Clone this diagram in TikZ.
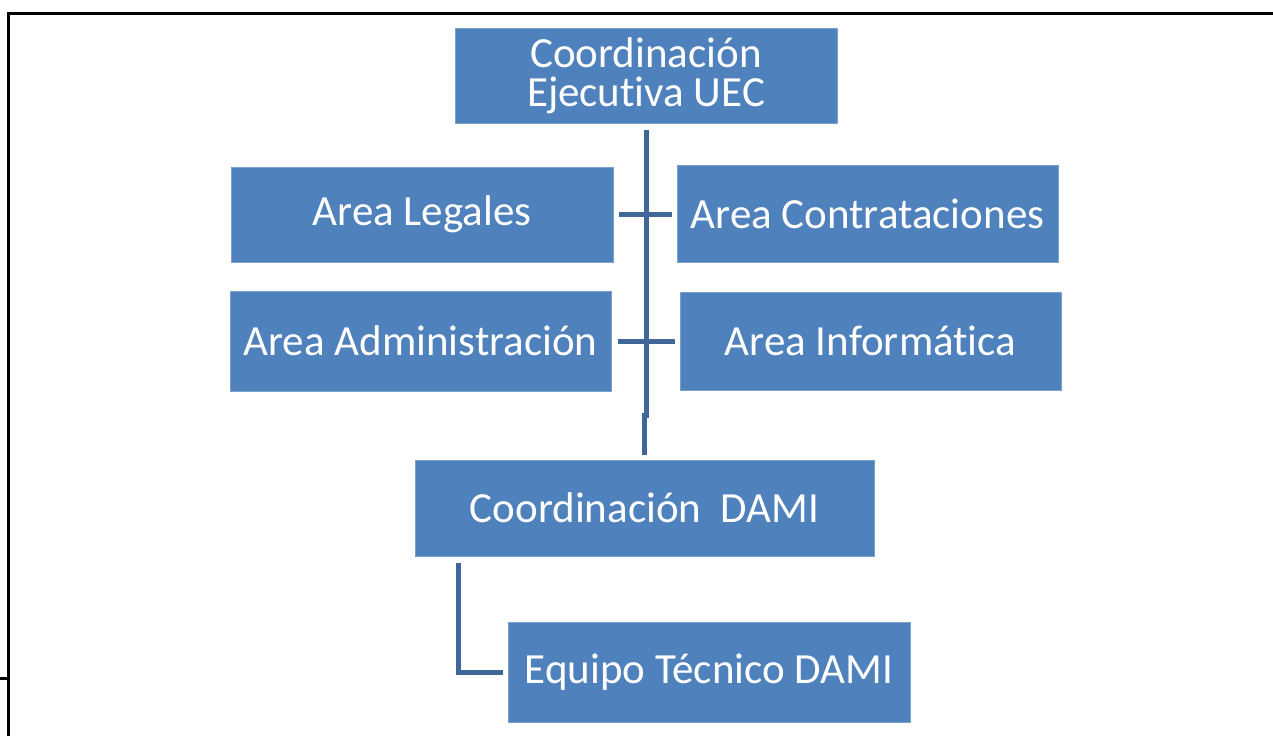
\documentclass[tikz,border=0pt]{standalone}
\usepackage{fontspec}
\setmainfont{Carlito}[Ligatures=NoCommon]
\definecolor{cajaazul}{HTML}{4F81BD}
\definecolor{lineaazul}{HTML}{3F6797}
\begin{document}
\begin{tikzpicture}[x=1pt, y=-1pt,
        caja/.style={fill=cajaazul, draw=cajaazul!75!white, line width=1pt, text=white,
            inner sep=0pt, align=center, font=\fontsize{43}{39}\selectfont},
        linea/.style={draw=lineaazul, line width=5pt}]
    \useasboundingbox (0,0) rectangle (1273,736);
    % marco de la pagina
    \draw [line width=3pt] (0,678) -- (8,678);
    \draw [line width=3pt] (8,736) -- (8,13) -- (1273,13);
    % cajas
    \node [caja, minimum width=382pt, minimum height=95pt] (uec) at (646,75.5) {Coordinación\\Ejecutiva UEC};
    \node [caja, minimum width=382pt, minimum height=95pt] (legales) at (422,214.5) {Area Legales};
    \node [caja, minimum width=381pt, minimum height=97pt] (contrat) at (867.5,213.5) {Area Contrataciones};
    \node [caja, minimum width=381pt, minimum height=100pt] (admin) at (420.5,341) {Area Administración};
    \node [caja, minimum width=381pt, minimum height=98pt] (inform) at (870.5,341) {Area Informática};
    \node [caja, minimum width=459pt, minimum height=96pt] (dami) at (644.5,508) {Coordinación~ DAMI};
    \node [caja, minimum width=402pt, minimum height=100pt] (equipo) at (709,672) {Equipo Técnico DAMI};
    % conectores
    \coordinate (quiebre) at (646,415);
    \draw [linea, shorten <=6pt, shorten >=5pt] (uec.south) -- (quiebre) -| (dami.north);
    \draw [linea, shorten <=5pt, shorten >=5pt] (legales.east) -- (contrat.west |- legales.east);
    \draw [linea, shorten <=6pt, shorten >=5pt] (admin.east) -- (inform.west |- admin.east);
    \draw [linea, shorten <=6pt, shorten >=5pt] ([xshift=44pt]dami.south west) |- (equipo.west);
\end{tikzpicture}
\end{document}
